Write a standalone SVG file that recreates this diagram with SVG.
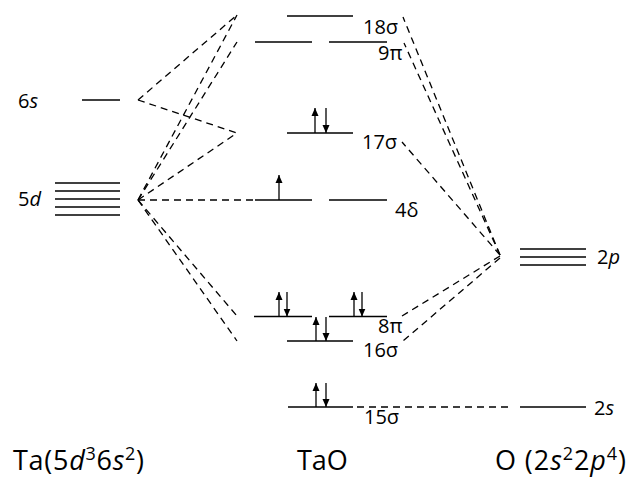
<svg xmlns="http://www.w3.org/2000/svg" width="630" height="479" viewBox="0 0 630 479">
  <style>
    .lvl { stroke: #000; stroke-width: 1.5; fill: none; }
    .dash { stroke: #000; stroke-width: 1.3; fill: none; stroke-dasharray: 7 5; }
    .spin { stroke: #000; stroke-width: 1.3; fill: none; }
    .lab { font-family: "Open Sans", "Liberation Sans", sans-serif; font-size: 20px; font-weight: 500; fill: #000; }
    .big { font-family: "Open Sans", "Liberation Sans", sans-serif; font-size: 27px; font-weight: 500; fill: #000; }
    .it { font-style: italic; }
    .sup { font-size: 18px; }
  </style>
  <defs>
    <marker id="head" viewBox="0 0 8 10" refX="8" refY="5" markerWidth="8" markerHeight="10" markerUnits="userSpaceOnUse" orient="auto">
      <path d="M0,1.5 L8,5 L0,8.5 Z" fill="#000"/>
    </marker>
  </defs>
  <rect width="630" height="479" fill="#fff"/>

  <!-- correlation lines -->
  <g id="connectors">
    <!-- Ta 6s -->
    <line class="dash" x1="138" y1="100" x2="237" y2="15"/>
    <line class="dash" x1="138" y1="100" x2="237" y2="133"/>
    <!-- Ta 5d -->
    <line class="dash" x1="138" y1="200" x2="237" y2="15"/>
    <line class="dash" x1="138" y1="200" x2="237" y2="42"/>
    <line class="dash" x1="138" y1="200" x2="237" y2="133"/>
    <line class="dash" x1="138" y1="200" x2="253" y2="200"/>
    <line class="dash" x1="138" y1="200" x2="237" y2="316"/>
    <line class="dash" x1="138" y1="200" x2="237" y2="341"/>
    <!-- O 2p -->
    <line class="dash" x1="500" y1="255" x2="403" y2="17"/>
    <line class="dash" x1="500" y1="255" x2="404" y2="43"/>
    <line class="dash" x1="500" y1="255" x2="402" y2="142"/>
    <line class="dash" x1="500" y1="256" x2="402" y2="316"/>
    <line class="dash" x1="500" y1="258" x2="403" y2="341"/>
    <!-- O 2s -->
    <line class="dash" x1="357" y1="407" x2="508" y2="407"/>
  </g>

  <!-- Ta atomic levels -->
  <g id="ta-6s">
    <line class="lvl" x1="82" y1="100" x2="120" y2="100"/>
    <text class="lab" x="18" y="108">6<tspan class="it">s</tspan></text>
  </g>
  <g id="ta-5d">
    <line class="lvl" x1="55" y1="183" x2="120" y2="183"/>
    <line class="lvl" x1="55" y1="191" x2="120" y2="191"/>
    <line class="lvl" x1="55" y1="199" x2="120" y2="199"/>
    <line class="lvl" x1="55" y1="207" x2="120" y2="207"/>
    <line class="lvl" x1="55" y1="215" x2="120" y2="215"/>
    <text class="lab" x="18" y="206">5<tspan class="it">d</tspan></text>
  </g>

  <!-- TaO molecular orbitals -->
  <g id="mo-18sigma">
    <line class="lvl" x1="287" y1="16" x2="353" y2="16"/>
    <text class="lab" x="363" y="34">18σ</text>
  </g>
  <g id="mo-9pi">
    <line class="lvl" x1="255" y1="42" x2="312" y2="42"/>
    <line class="lvl" x1="329" y1="42" x2="387" y2="42"/>
    <text class="lab" x="378" y="60">9π</text>
  </g>
  <g id="mo-17sigma">
    <line class="lvl" x1="287" y1="133" x2="353" y2="133"/>
    <line class="spin" x1="315" y1="133" x2="315" y2="108" marker-end="url(#head)"/>
    <line class="spin" x1="326" y1="108" x2="326" y2="133" marker-end="url(#head)"/>
    <text class="lab" x="362" y="149">17σ</text>
  </g>
  <g id="mo-4delta">
    <line class="lvl" x1="255" y1="200" x2="312" y2="200"/>
    <line class="lvl" x1="329" y1="200" x2="387" y2="200"/>
    <line class="spin" x1="279" y1="200" x2="279" y2="175" marker-end="url(#head)"/>
    <text class="lab" x="395" y="217">4δ</text>
  </g>
  <g id="mo-8pi">
    <line class="lvl" x1="254" y1="316.5" x2="312" y2="316.5"/>
    <line class="lvl" x1="329" y1="316.5" x2="387" y2="316.5"/>
    <line class="spin" x1="279" y1="316.5" x2="279" y2="292" marker-end="url(#head)"/>
    <line class="spin" x1="287" y1="292" x2="287" y2="316.5" marker-end="url(#head)"/>
    <line class="spin" x1="354" y1="316.5" x2="354" y2="292" marker-end="url(#head)"/>
    <line class="spin" x1="362" y1="292" x2="362" y2="316.5" marker-end="url(#head)"/>
    <text class="lab" x="378" y="333">8π</text>
  </g>
  <g id="mo-16sigma">
    <line class="lvl" x1="287" y1="341" x2="353" y2="341"/>
    <line class="spin" x1="316" y1="341" x2="316" y2="317" marker-end="url(#head)"/>
    <line class="spin" x1="326" y1="317" x2="326" y2="341" marker-end="url(#head)"/>
    <text class="lab" x="363" y="357">16σ</text>
  </g>
  <g id="mo-15sigma">
    <line class="lvl" x1="288" y1="407" x2="353" y2="407"/>
    <line class="spin" x1="316" y1="407" x2="316" y2="383" marker-end="url(#head)"/>
    <line class="spin" x1="326" y1="383" x2="326" y2="407" marker-end="url(#head)"/>
    <text class="lab" x="364" y="424">15σ</text>
  </g>

  <!-- O atomic levels -->
  <g id="o-2p">
    <line class="lvl" x1="520" y1="249" x2="586" y2="249"/>
    <line class="lvl" x1="520" y1="257" x2="586" y2="257"/>
    <line class="lvl" x1="520" y1="265" x2="586" y2="265"/>
    <text class="lab" x="597" y="264">2<tspan class="it">p</tspan></text>
  </g>
  <g id="o-2s">
    <line class="lvl" x1="520" y1="407" x2="586" y2="407"/>
    <text class="lab" x="594" y="415">2<tspan class="it">s</tspan></text>
  </g>

  <!-- column titles -->
  <g id="titles">
    <text class="big" x="13" y="470" textLength="131" lengthAdjust="spacing">Ta(5<tspan class="it">d</tspan><tspan class="sup" dy="-10">3</tspan><tspan dy="10">6</tspan><tspan class="it">s</tspan><tspan class="sup" dy="-10">2</tspan><tspan dy="10">)</tspan></text>
    <text class="big" x="297" y="470">TaO</text>
    <text class="big" x="495" y="470" textLength="131" lengthAdjust="spacing">O (2<tspan class="it">s</tspan><tspan class="sup" dy="-10">2</tspan><tspan dy="10">2</tspan><tspan class="it">p</tspan><tspan class="sup" dy="-10">4</tspan><tspan dy="10">)</tspan></text>
  </g>
</svg>
